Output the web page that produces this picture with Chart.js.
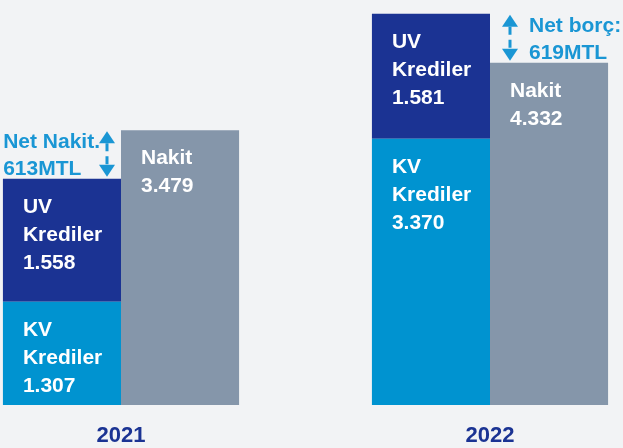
<!DOCTYPE html>
<html>
<head>
<meta charset="utf-8">
<script src="https://cdn.jsdelivr.net/npm/chart.js@4.4.1/dist/chart.umd.min.js"></script>
<style>
  html, body { margin: 0; padding: 0; background: #f2f3f5; }
  canvas { display: block; }
</style>
</head>
<body>
<canvas id="chart" width="623" height="448"></canvas>
<script>
// values in million TL
const years = ['2021', '2022'];
const kvKrediler = [1307, 3370];
const uvKrediler = [1558, 1581];
const nakit = [3479, 4332];
const netLabels = ['Net Nakit.', 'Net borç:'];
const netValues = [613, 619];
const barLines = [['KV', 'Krediler'], ['UV', 'Krediler'], ['Nakit']];

const navy = '#1b3393';
const lightBlue = '#0093d0';
const grey = '#8596aa';
const accent = '#1a96d4';
const font = '"Liberation Sans", Arial, sans-serif';

// 1307 -> "1.307"
const fmt = v => String(v).replace(/\B(?=(\d{3})+(?!\d))/g, '.');

function drawArrow(ctx, x, yTop, yBottom) {
  const head = 12, half = 8;
  ctx.strokeStyle = accent;
  ctx.fillStyle = accent;
  ctx.lineWidth = 3;
  ctx.setLineDash([8, 5]);
  ctx.beginPath();
  ctx.moveTo(x, yTop + head);
  ctx.lineTo(x, yBottom - head);
  ctx.stroke();
  ctx.setLineDash([]);
  ctx.beginPath();
  ctx.moveTo(x, yTop);
  ctx.lineTo(x - half, yTop + head);
  ctx.lineTo(x + half, yTop + head);
  ctx.closePath();
  ctx.fill();
  ctx.beginPath();
  ctx.moveTo(x, yBottom);
  ctx.lineTo(x - half, yBottom - head);
  ctx.lineTo(x + half, yBottom - head);
  ctx.closePath();
  ctx.fill();
}

const barText = {
  id: 'barText',
  afterDatasetsDraw(chart) {
    const ctx = chart.ctx;
    ctx.save();
    ctx.font = 'bold 21px ' + font;
    ctx.fillStyle = '#ffffff';
    ctx.textBaseline = 'alphabetic';
    chart.data.datasets.forEach((ds, i) => {
      chart.getDatasetMeta(i).data.forEach((bar, j) => {
        const left = bar.x - bar.width / 2 + 20;
        const lines = barLines[i].concat(fmt(ds.data[j]));
        lines.forEach((t, k) => ctx.fillText(t, left, bar.y + 34 + k * 28));
      });
    });

    // net cash / net debt markers between the two bars
    const y = chart.scales.y;
    const kvMeta = chart.getDatasetMeta(0).data;
    const nakitMeta = chart.getDatasetMeta(2).data;
    ctx.font = 'bold 21px ' + font;
    ctx.textAlign = 'left';
    years.forEach((yr, j) => {
      const krediTop = y.getPixelForValue(kvKrediler[j] + uvKrediler[j]);
      const nakitTop = y.getPixelForValue(nakit[j]);
      const top = Math.min(krediTop, nakitTop) + 1;
      const bottom = Math.max(krediTop, nakitTop) - 2;
      const mid = (top + bottom) / 2;
      const l1 = netLabels[j];
      const l2 = netValues[j] + 'MTL';
      let ax, tx;
      if (nakit[j] > kvKrediler[j] + uvKrediler[j]) {
        // net cash: arrow left of the cash bar, text block to its left
        const nb = nakitMeta[j];
        ax = nb.x - nb.width / 2 - 14;
        const w = Math.max(ctx.measureText(l1).width, ctx.measureText(l2).width);
        tx = ax - 7 - w;
      } else {
        const kb = kvMeta[j];
        ax = kb.x + kb.width / 2 + 20;
        tx = ax + 19;
      }
      drawArrow(ctx, ax, top, bottom);
      ctx.fillStyle = accent;
      ctx.fillText(l1, tx, mid - 6);
      ctx.fillText(l2, tx, mid + 21);
    });
    ctx.restore();
  }
};

new Chart(document.getElementById('chart'), {
  type: 'bar',
  data: {
    labels: years,
    datasets: [
      { label: 'KV Krediler', data: kvKrediler, backgroundColor: lightBlue, stack: 'kredi' },
      { label: 'UV Krediler', data: uvKrediler, backgroundColor: navy, stack: 'kredi' },
      { label: 'Nakit', data: nakit, backgroundColor: grey, stack: 'nakit' }
    ]
  },
  options: {
    responsive: false,
    animation: false,
    layout: { padding: { left: 121, right: 133, top: 10, bottom: 0 } },
    datasets: {
      bar: {
        barPercentage: 1,
        categoryPercentage: 0.64,
        borderWidth: 0,
        clip: false
      }
    },
    plugins: {
      legend: { display: false },
      tooltip: { enabled: false }
    },
    scales: {
      x: {
        stacked: true,
        offset: false,
        grid: { display: false, drawTicks: false },
        border: { display: false },
        ticks: {
          color: navy,
          font: { family: font, size: 22, weight: 'bold' },
          padding: 18,
          maxRotation: 0,
          autoSkip: false
        },
        afterFit(scale) { scale.height = 43; }
      },
      y: {
        stacked: true,
        display: false,
        min: 0,
        max: 5000
      }
    }
  },
  plugins: [barText]
});
</script>
</body>
</html>
